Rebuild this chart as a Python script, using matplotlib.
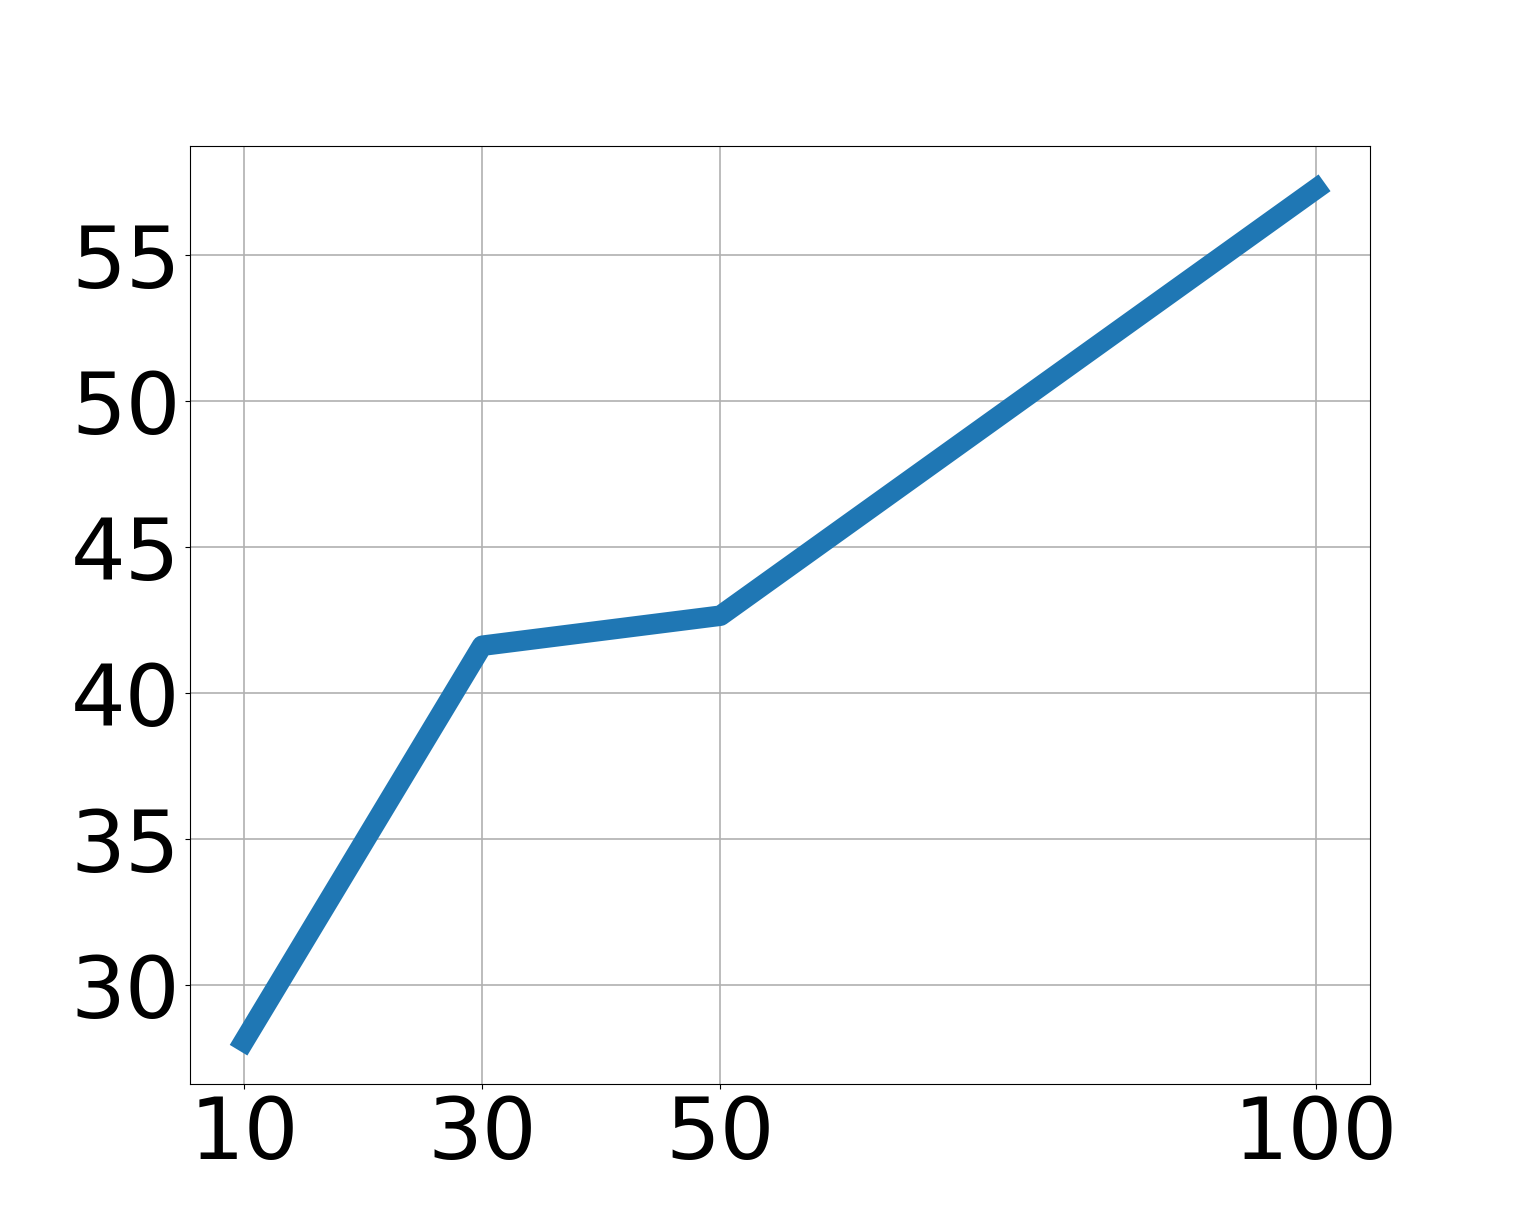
import matplotlib
matplotlib.use("Agg")
import matplotlib.pyplot as plt

# Values
steps = [10, 30, 50, 100]
scores = [28.07, 41.62, 42.65, 57.27]
x_ticks = [10, 30, 50, 100]
y_ticks = [30, 35, 40, 45, 50, 55]

fig, ax = plt.subplots(figsize=(15.22, 12.18), dpi=100)
ax.plot(steps, scores, color="#1f77b4", linewidth=14.8)
ax.set_xticks(x_ticks)
ax.set_yticks(y_ticks)
ax.tick_params(axis="both", labelsize=62)
ax.grid(True, linewidth=1.2)

fig.savefig("out.png", dpi=100)
